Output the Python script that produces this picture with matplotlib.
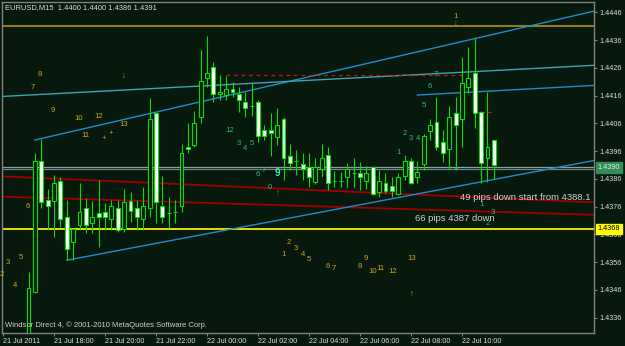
import matplotlib.pyplot as plt
import matplotlib.transforms as mtransforms
import numpy as np

# EURUSD M15, bar 0 = 21 Jul 2011 16:00 ; bars 0-3 are below the visible range
first_bar = 4
opens = [1.4318, 1.43453, 1.43924, 1.43784, 1.4378, 1.43852, 1.43723, 1.43633, 1.43694, 1.43755,
         1.43701, 1.43737, 1.43741, 1.43716, 1.43755, 1.4368, 1.4378, 1.43755, 1.43716, 1.43755,
         1.44097, 1.43762, 1.43737, 1.43741, 1.43762, 1.43974, 1.43982, 1.44082, 1.44224, 1.44264,
         1.44166, 1.44162, 1.44183, 1.44165, 1.44136, 1.44124, 1.44136, 1.44036, 1.44036, 1.44012,
         1.44075, 1.43943, 1.43925, 1.43913, 1.43904, 1.4385, 1.43895, 1.43946, 1.43853, 1.43853,
         1.43866, 1.43882, 1.43882, 1.43853, 1.43904, 1.43814, 1.43844, 1.43834, 1.43806, 1.43871,
         1.43924, 1.43866, 1.43913, 1.44034, 1.44064, 1.43994, 1.43967, 1.44096, 1.44075, 1.44192,
         1.44242, 1.44102, 1.43934, 1.4400]
highs = [1.43525, 1.43953, 1.44004, 1.43824, 1.43874, 1.43867, 1.43784, 1.43684, 1.43845, 1.43791,
         1.4378, 1.43856, 1.43773, 1.43784, 1.43784, 1.43824, 1.43813, 1.43784, 1.43831, 1.44151,
         1.44101, 1.4387, 1.43795, 1.43784, 1.43986, 1.44062, 1.44104, 1.44324, 1.44374, 1.44282,
         1.44233, 1.4423, 1.4421, 1.44192, 1.44174, 1.44204, 1.44144, 1.44054, 1.44096, 1.44114,
         1.44082, 1.43986, 1.43964, 1.43952, 1.43954, 1.43934, 1.43984, 1.43976, 1.43888, 1.43886,
         1.43916, 1.43934, 1.43922, 1.43906, 1.43908, 1.43892, 1.4388, 1.43868, 1.4388, 1.43946,
         1.43934, 1.43924, 1.44022, 1.44075, 1.44156, 1.44036, 1.44124, 1.44156, 1.443, 1.44336,
         1.44366, 1.44104, 1.44174, 1.4400]
lows = [1.4315, 1.4345, 1.43755, 1.4368, 1.43651, 1.43687, 1.43568, 1.43568, 1.43676, 1.43665,
        1.43665, 1.43615, 1.43676, 1.43676, 1.43669, 1.43669, 1.43705, 1.43676, 1.43676, 1.43723,
        1.43701, 1.43701, 1.43684, 1.43701, 1.43741, 1.43954, 1.43974, 1.44062, 1.44192, 1.44138,
        1.44144, 1.44144, 1.44156, 1.44102, 1.44082, 1.44086, 1.43994, 1.44, 1.43942, 1.43982,
        1.43856, 1.43892, 1.43874, 1.43856, 1.43832, 1.43842, 1.43868, 1.4382, 1.43832, 1.43832,
        1.43832, 1.43832, 1.4382, 1.43823, 1.43802, 1.43796, 1.43808, 1.43796, 1.43802, 1.43856,
        1.43842, 1.43844, 1.43892, 1.44, 1.43964, 1.43922, 1.43895, 1.43892, 1.43976, 1.44168,
        1.44042, 1.43846, 1.4385, 1.4386]
closes = [1.43467, 1.43924, 1.43777, 1.43762, 1.43845, 1.43716, 1.43608, 1.4368, 1.43741, 1.43694,
          1.43723, 1.43723, 1.43723, 1.43762, 1.43676, 1.43777, 1.43744, 1.43723, 1.43762, 1.44076,
          1.43777, 1.43723, 1.43737, 1.43741, 1.43954, 1.43967, 1.44062, 1.44213, 1.44242, 1.44166,
          1.44173, 1.44183, 1.44173, 1.44144, 1.44114, 1.44124, 1.44014, 1.44014, 1.44024, 1.44054,
          1.43934, 1.43916, 1.43925, 1.43895, 1.43866, 1.43904, 1.43934, 1.43844, 1.43853, 1.43853,
          1.43895, 1.43882, 1.43866, 1.43882, 1.43806, 1.43852, 1.43816, 1.43816, 1.43868, 1.43924,
          1.43844, 1.43884, 1.44014, 1.44054, 1.43974, 1.43954, 1.44084, 1.44054, 1.44204, 1.44224,
          1.44096, 1.43916, 1.43974, 1.4391]

time_ticks = [0, 8, 16, 24, 32, 40, 48, 56, 64, 72]
time_labels = ['21 Jul 2011', '21 Jul 18:00', '21 Jul 20:00', '21 Jul 22:00', '22 Jul 00:00',
               '22 Jul 02:00', '22 Jul 04:00', '22 Jul 06:00', '22 Jul 08:00', '22 Jul 10:00']
price_ticks = [1.4336, 1.4346, 1.4356, 1.4366, 1.4376, 1.4386, 1.4396, 1.4406, 1.4416, 1.4426,
               1.4436, 1.4446]

gold_level = 1.4441
yellow_level = 1.4368
bid_level = 1.4390
ask_level = 1.43897

# trend lines: two (bar, price) anchors each
line_a = ([5, 77], [1.44000, 1.44381])
line_b = ([0, 77], [1.44157, 1.44250])
line_c = ([10, 77], [1.43567, 1.43858])
line_d = ([65, 77], [1.44162, 1.44177])
reg_upper = ([0, 92], [1.43869, 1.43776])
reg_lower = ([0, 92], [1.43796, 1.43731])
swing_level = ([35, 72], 1.44233)
start_level = ([75, 76.5], 1.44102)

gold_labels = [('8', 5.80, 1.44237), ('7', 4.75, 1.44188), ('9', 7.80, 1.44106), ('10', 11.92, 1.44077),
               ('12', 14.95, 1.44086), ('13', 18.98, 1.44057), ('11', 12.91, 1.44017),
               ('+', 15.89, 1.44006), ('+', 16.89, 1.44025), ('↓', 19.03, 1.44228),
               ('6', 3.81, 1.43759), ('2', -0.2, 1.43517), ('3', 0.83, 1.43558), ('5', 2.82, 1.43576),
               ('4', 1.88, 1.43476), ('1', 43.97, 1.43587), ('2', 44.91, 1.4363), ('3', 45.96, 1.43609),
               ('4', 47.01, 1.43589), ('5', 47.95, 1.43568), ('6', 50.93, 1.43546), ('7', 51.92, 1.43537),
               ('8', 56.0, 1.43546), ('9', 56.94, 1.43575), ('10', 57.99, 1.43528), ('11', 59.14, 1.43537),
               ('12', 61.13, 1.43528), ('13', 64.11, 1.43575), ('↑', 64.11, 1.43445), ('1', 71.06, 1.44446)]
green_labels = [('12', 35.6, 1.44036), ('3', 37.02, 1.43986), ('4', 37.96, 1.43968), ('5', 39.01, 1.43986),
                ('6', 39.95, 1.43874), ('7', 40.94, 1.4389), ('0', 41.93, 1.43828), ('↑', 43.09, 1.43808),
                ('1', 62.12, 1.43954), ('2', 63.06, 1.44024), ('3', 64.0, 1.44005), ('4', 65.05, 1.44005),
                ('5', 66.09, 1.44126), ('6', 66.98, 1.44194), ('7', 67.92, 1.44237), ('1', 71.06, 1.43902),
                ('1', 75.14, 1.43769), ('2', 76.03, 1.437), ('3', 76.91, 1.43738), ('↓', 71.06, 1.44418)]
notes = [('49 pips down start from 4388.1', 71.69, 1.43792), ('66 pips 4387 down', 64.63, 1.43716)]

bg = '#07190d'
bar_col = '#00e000'
frame = '#808080'
txt = '#dcdcdc'


def ray(line, x0, x1):
    bars, prices = line
    slope = (prices[1] - prices[0]) / (bars[1] - bars[0])
    xs = np.array([x0, x1])
    return xs, prices[0] + slope * (xs - bars[0])


plt.rcParams['font.family'] = ['Liberation Sans', 'DejaVu Sans']

fig = plt.figure(figsize=(6.25, 3.46), dpi=100, facecolor=bg)
ax = fig.add_axes([2 / 625, 13 / 346, 592 / 625, 331 / 346], facecolor=bg)
xmin, xmax = -0.157, 92.706
ax.set_xlim(xmin, xmax)
ax.set_ylim(1.43305, 1.44497)

# levels
ax.axhline(gold_level, color='#c89a10', lw=1.1, zorder=2)
ax.axhline(yellow_level, color='#f0f000', lw=1.3, zorder=2)
ax.axhline(bid_level + 0.00002, color='#9a9a9a', lw=0.9, zorder=2)
ax.axhline(ask_level - 0.00002, color='#5c8f90', lw=0.9, zorder=2)

# regression style red lines
for line in (reg_upper, reg_lower):
    xs, ys = ray(line, xmin, xmax)
    ax.plot(xs, ys, color='#a00000', lw=1.3, zorder=2)

# channels
xs, ys = ray(line_a, line_a[0][0], xmax)
ax.plot(xs, ys, color='#1f8ccc', lw=1.0, zorder=2)
xs, ys = ray(line_b, xmin, xmax)
ax.plot(xs, ys, color='#3fa3b3', lw=1.0, zorder=2)
xs, ys = ray(line_c, line_c[0][0], xmax)
ax.plot(xs, ys, color='#1f8ccc', lw=1.0, zorder=2)
xs, ys = ray(line_d, line_d[0][0], xmax)
ax.plot(xs, ys, color='#1f8ccc', lw=1.0, zorder=2)

ax.plot(swing_level[0], [swing_level[1]] * 2, color='#d01010', lw=0.9, ls=(0, (3, 3)), zorder=2)
ax.plot(start_level[0], [start_level[1]] * 2, color='#d01010', lw=0.9, ls=(0, (3, 2)), zorder=2)

# candles
x = np.arange(first_bar, first_bar + len(opens))
o = np.array(opens)
h = np.array(highs)
l = np.array(lows)
c = np.array(closes)
ax.vlines(x, l, h, color=bar_col, lw=0.8, zorder=3)
body = np.abs(c - o) > 0
fills = ['white' if cc < oo else bg for oo, cc in zip(o, c)]
ax.bar(x[body], np.abs(c - o)[body], bottom=np.minimum(o, c)[body], width=0.6,
       color=[f for f, b in zip(fills, body) if b], edgecolor=bar_col, linewidth=0.8, zorder=4)
ax.hlines(o[~body], x[~body] - 0.3, x[~body] + 0.3, color=bar_col, lw=0.8, zorder=4)

# wave labels
for s, bx, py in gold_labels:
    ax.text(bx, py, s, color='#d0a020', fontsize=5.6, ha='center', va='center', zorder=5)
for s, bx, py in green_labels:
    ax.text(bx, py, s, color='#34b27a', fontsize=5.6, ha='center', va='center', zorder=5)
ax.text(43.09, 1.4388, '9', color='#40e8a8', fontsize=7, fontweight='bold', ha='center', va='center', zorder=5)
for s, bx, py in notes:
    ax.text(bx, py, s, color='#cfcfcf', fontsize=6.8, ha='left', va='center', zorder=5, clip_on=True)

ax.text(0.005, 0.982, 'EURUSD,M15  1.4400 1.4400 1.4386 1.4391', transform=ax.transAxes,
        color=txt, fontsize=5.4, ha='left', va='center')
ax.text(0.005, 0.023, 'Windsor Direct 4, © 2001-2010 MetaQuotes Software Corp.', transform=ax.transAxes,
        color='#cfcfcf', fontsize=5.5, ha='left', va='center', zorder=6)

# axes styling
for sp in ax.spines.values():
    sp.set_color(frame)
    sp.set_linewidth(1)
ax.yaxis.tick_right()
ax.set_yticks(price_ticks)
ax.set_yticklabels(['%.4f' % p for p in price_ticks])
ax.set_xticks(time_ticks)
ax.set_xticklabels(time_labels)
ax.tick_params(axis='y', length=2.2, width=0.8, color=frame, labelcolor=txt, labelsize=5.2, pad=1.5)
ax.tick_params(axis='x', length=2.2, width=0.8, color=frame, labelcolor=txt, labelsize=5.2, pad=1.2)
for lbl in ax.get_xticklabels():
    lbl.set_ha('left')

# price boxes on the right scale
tr = mtransforms.blended_transform_factory(ax.transAxes, ax.transData)
ax.text(1.006, bid_level, '1.4390', transform=tr, color='#e8e8e8', fontsize=5.2, ha='left', va='center',
        bbox=dict(boxstyle='square,pad=0.25', fc='#2f8f55', ec='#2f8f55'), clip_on=False, zorder=7)
ax.text(1.006, yellow_level, '1.4368', transform=tr, color='black', fontsize=5.2, ha='left', va='center',
        bbox=dict(boxstyle='square,pad=0.25', fc='#ffff00', ec='#ffff00'), clip_on=False, zorder=7)

fig.savefig('out.png', dpi=100, facecolor=bg)
